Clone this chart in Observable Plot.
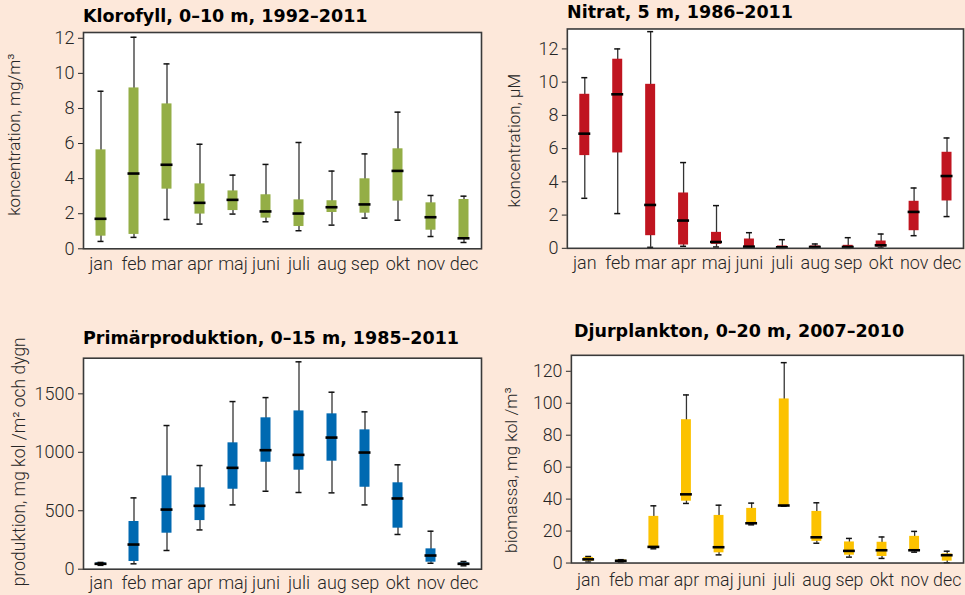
<!DOCTYPE html>
<html>
<head>
<meta charset="utf-8">
<script src="https://cdn.jsdelivr.net/npm/d3@7"></script>
<script src="https://cdn.jsdelivr.net/npm/@observablehq/plot@0.6"></script>
<style>
  html, body { margin: 0; padding: 0; background: #fde8da; overflow: hidden; }
  #root { position: relative; width: 965px; height: 595px; overflow: hidden; background: #fde8da; }
  .panel { position: absolute; }
  .title { position: absolute; font-family: "DejaVu Sans", "Liberation Sans", sans-serif; font-weight: 700; font-size: 17.5px; line-height: 17.5px; color: #000; white-space: nowrap; }
</style>
</head>
<body>
<div id="root"></div>
<script>
// ---- data ----
const months = ["jan","feb","mar","apr","maj","juni","juli","aug","sep","okt","nov","dec"];

// Klorofyll, 0–10 m (mg/m3)
const klorLo  = [0.42, 0.65, 1.67, 1.41, 1.98, 1.54, 1.03, 1.35, 1.75, 1.63, 0.70, 0.36];
const klorQ1  = [0.72, 0.82, 3.40, 1.98, 2.18, 1.75, 1.27, 2.07, 2.03, 2.72, 1.06, 0.57];
const klorMed = [1.71, 4.29, 4.79, 2.62, 2.79, 2.13, 2.01, 2.37, 2.53, 4.44, 1.80, 0.60];
const klorQ3  = [5.64, 9.17, 8.26, 3.70, 3.30, 3.08, 2.79, 2.74, 3.99, 5.70, 2.62, 2.81];
const klorHi  = [8.98, 12.06, 10.54, 5.96, 4.20, 4.81, 6.06, 4.43, 5.41, 7.79, 3.04, 3.00];

// Nitrat, 5 m (µM)
const nitLo  = [3.01, 2.09, 0.06, 0.12, 0.08, 0.02, 0.00, 0.00, 0.00, 0.02, 0.76, 1.91];
const nitQ1  = [5.58, 5.74, 0.76, 0.20, 0.24, 0.04, 0.02, 0.02, 0.02, 0.08, 1.06, 2.85];
const nitMed = [6.90, 9.27, 2.61, 1.67, 0.38, 0.10, 0.06, 0.08, 0.08, 0.18, 2.19, 4.35];
const nitQ3  = [9.27, 11.38, 9.87, 3.33, 0.96, 0.56, 0.14, 0.14, 0.18, 0.44, 2.83, 5.78];
const nitHi  = [10.27, 12.00, 13.04, 5.16, 2.57, 0.94, 0.52, 0.26, 0.64, 0.86, 3.63, 6.64];

// Primärproduktion, 0–15 m (mg kol/m2 och dygn)
const ppLo  = [33, 46, 160, 336, 550, 667, 656, 653, 550, 297, 51, 29];
const ppQ1  = [38, 66, 308, 416, 684, 915, 847, 924, 701, 351, 60, 37];
const ppMed = [46, 211, 510, 542, 867, 1018, 978, 1126, 998, 605, 117, 46];
const ppQ3  = [54, 408, 798, 696, 1081, 1295, 1354, 1329, 1192, 739, 174, 54];
const ppHi  = [58, 610, 1229, 887, 1434, 1468, 1774, 1514, 1346, 893, 325, 66];

// Djurplankton, 0–20 m (mg kol/m3)
const djLo  = [0.6, 0.6, 8.9, 37.3, 5.1, 23.9, 35.6, 12.4, 3.7, 2.9, 6.8, 0.2];
const djQ1  = [1.2, 0.8, 9.5, 38.7, 6.4, 24.5, 35.8, 13.6, 4.9, 4.1, 7.2, 1.2];
const djMed = [2.3, 1.4, 10.1, 43.0, 9.9, 24.9, 36.0, 16.1, 7.6, 8.0, 8.0, 4.9];
const djQ3  = [3.5, 1.9, 29.2, 89.7, 29.8, 34.2, 102.7, 32.3, 13.2, 13.0, 16.7, 5.7];
const djHi  = [4.1, 2.1, 35.8, 105.2, 36.2, 37.5, 125.4, 37.7, 15.4, 16.3, 19.8, 7.4];

// ---- drawing ----
function rows(lo, q1, med, q3, hi) {
  return months.map((m, i) => ({m, lo: lo[i], q1: q1[i], med: med[i], q3: q3[i], hi: hi[i]}));
}

const root = document.getElementById("root");

function panel(cfg) {
  const data = rows(...cfg.series);
  const chart = Plot.plot({
    width: cfg.width,
    height: cfg.height,
    marginLeft: cfg.ml,
    marginRight: cfg.mr,
    marginTop: cfg.mt,
    marginBottom: cfg.mb,
    style: {
      fontFamily: "Roboto, 'Liberation Sans', sans-serif",
      fontWeight: 300,
      fontSize: "18px",
      color: "#262626",
      background: "transparent",
      overflow: "visible"
    },
    x: {type: "band", domain: months, padding: 0, label: null},
    y: {domain: cfg.ydomain, ticks: cfg.yticks, label: cfg.ylabel},
    marks: [
      Plot.frame({fill: "white"}),
      Plot.ruleX(data, {x: "m", y1: "lo", y2: "hi", stroke: "#333", strokeWidth: 1.3}),
      Plot.barY(data, {x: "m", y1: "q1", y2: "q3", fill: cfg.color, insetLeft: 11.5, insetRight: 11.5}),
      Plot.tickY(data, {x: "m", y: "hi", stroke: "#111", strokeWidth: 1.5, insetLeft: 13.5, insetRight: 13.5}),
      Plot.tickY(data, {x: "m", y: "lo", stroke: "#111", strokeWidth: 1.5, insetLeft: 13.5, insetRight: 13.5}),
      Plot.tickY(data, {x: "m", y: "med", stroke: "#000", strokeWidth: 2.6, insetLeft: 10.5, insetRight: 10.5}),
      Plot.axisX({tickSize: 0, tickPadding: cfg.xpad, label: null}),
      Plot.axisY({ticks: cfg.yticks, tickFormat: (d) => String(d), tickSize: 5, tickPadding: 4, label: cfg.ylabel, labelAnchor: "center", labelOffset: cfg.labelOffset, labelArrow: "none"}),
      Plot.frame({stroke: "#3a3a3a", strokeWidth: 1.6})
    ]
  });
  // fine-tune the y-axis title size and vertical placement
  const lab = chart.querySelector('[aria-label="y-axis label"]');
  if (lab) {
    lab.setAttribute("font-size", cfg.labelSize);
    const prev = lab.getAttribute("transform") || "";
    lab.setAttribute("transform", `translate(0,${cfg.labelShift}) ${prev}`);
  }
  const wrap = document.createElement("div");
  wrap.className = "panel";
  wrap.style.left = cfg.left + "px";
  wrap.style.top = cfg.top + "px";
  wrap.appendChild(chart);
  root.appendChild(wrap);

  const t = document.createElement("div");
  t.className = "title";
  t.textContent = cfg.title;
  t.style.left = cfg.tx + "px";
  t.style.top = (cfg.tb - 14.8) + "px";
  root.appendChild(t);
}

panel({
  title: "Klorofyll, 0–10 m, 1992–2011", tx: 83, tb: 22.5,
  series: [klorLo, klorQ1, klorMed, klorQ3, klorHi], color: "#94ae46",
  left: 0, top: 25, width: 483, height: 255, ml: 83, mr: 2, mt: 7, mb: 31.7,
  ydomain: [0, 12.33], yticks: [0, 2, 4, 6, 8, 10, 12], ylabel: "koncentration, mg/m³", labelOffset: 76, xpad: 8,
  labelSize: 17, labelShift: -6
});

panel({
  title: "Nitrat, 5 m, 1986–2011", tx: 567, tb: 18.5,
  series: [nitLo, nitQ1, nitMed, nitQ3, nitHi], color: "#c01520",
  left: 480, top: 20, width: 486, height: 260, ml: 87, mr: 2, mt: 8.5, mb: 31.7,
  ydomain: [0, 13.2], yticks: [0, 2, 4, 6, 8, 10, 12], ylabel: "koncentration, µM", labelOffset: 60, xpad: 8,
  labelSize: 17, labelShift: 2
});

panel({
  title: "Primärproduktion, 0–15 m, 1985–2011", tx: 83, tb: 345,
  series: [ppLo, ppQ1, ppMed, ppQ3, ppHi], color: "#0069b1",
  left: 0, top: 345, width: 483, height: 250, ml: 83, mr: 2, mt: 12.7, mb: 26.3,
  ydomain: [0, 1805], yticks: [0, 500, 1000, 1500], ylabel: "produktion, mg kol /m² och dygn", labelOffset: 71, xpad: 7.5,
  labelSize: 17.5, labelShift: -2
});

panel({
  title: "Djurplankton, 0–20 m, 2007–2010", tx: 574, tb: 338,
  series: [djLo, djQ1, djMed, djQ3, djHi], color: "#fcc200",
  left: 480, top: 340, width: 491, height: 255, ml: 92, mr: 2, mt: 15, mb: 29.7,
  ydomain: [0, 130], yticks: [0, 20, 40, 60, 80, 100, 120], ylabel: "biomassa, mg kol /m³", labelOffset: 67, xpad: 10.5,
  labelSize: 17.5, labelShift: 11
});
</script>
</body>
</html>
